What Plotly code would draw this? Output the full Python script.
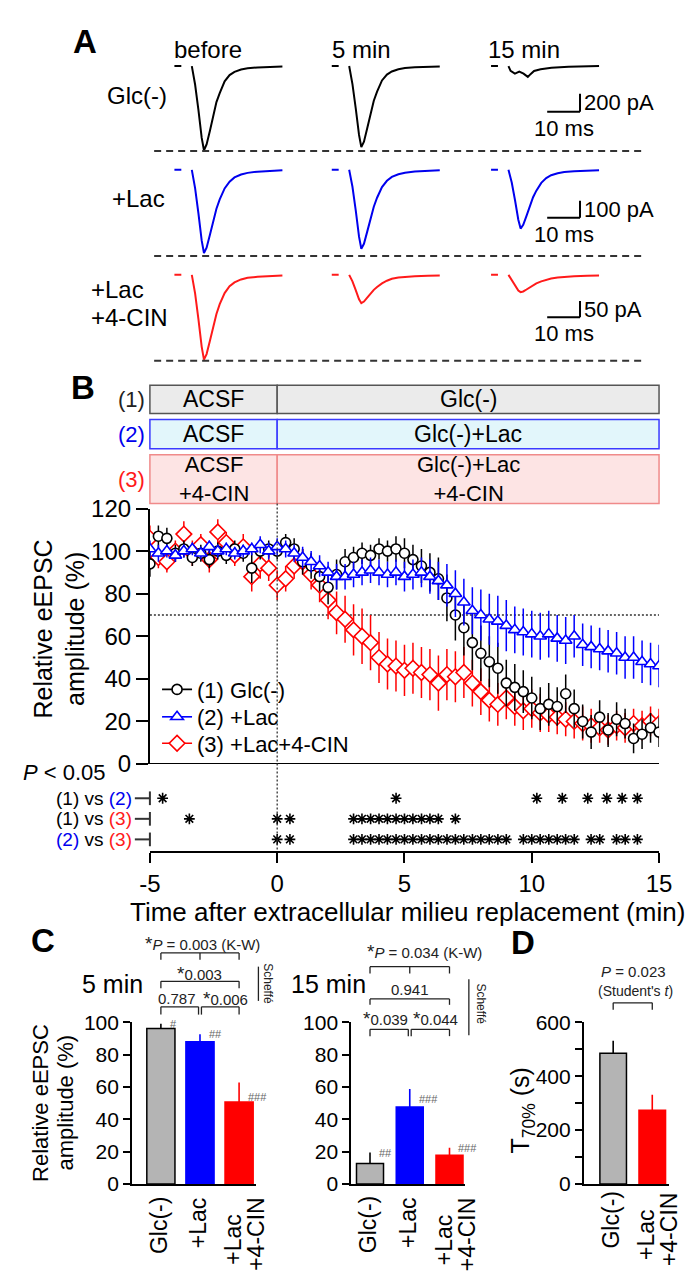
import plotly.graph_objects as go

W, H = 693, 1280
FONT = "Liberation Sans, Arial, Helvetica, sans-serif"

# ============================ DATA ============================
# ---- Panel A: representative eEPSC traces (ms after stimulus, pA) ----
TRACE_T_MS = [0, 1, 2, 3, 3.7, 4.5, 5.5, 6.5, 7.5, 8.5, 10, 11.5, 13, 15, 17, 20, 24, 27.6]
GLC_BEFORE_PA = [0, -205, -485, -795, -935, -870, -720, -540, -400, -300, -170, -100, -65, -38, -25, -15, -8, -5]
GLC_5MIN_PA = [0, -200, -470, -765, -900, -840, -690, -520, -385, -285, -160, -95, -60, -35, -22, -14, -8, -4]
GLC_15MIN_T_MS = [0, 0.65, 1.96, 3.3, 4.6, 5.9, 6.8, 7.8, 9.8, 13.1, 18.3, 27.6]
GLC_15MIN_PA = [0, -54, -84, -62, -84, -120, -87, -54, -36, -18, -8, 0]
LAC_BEFORE_PA = [0, -108, -255, -417, -491, -460, -385, -300, -230, -175, -110, -70, -45, -28, -18, -11, -6, -3]
LAC_5MIN_PA = [0, -100, -240, -395, -466, -437, -365, -285, -218, -165, -102, -65, -42, -26, -17, -10, -6, -3]
LAC_15MIN_PA = [0, -75, -180, -295, -347, -325, -272, -212, -162, -123, -77, -49, -32, -20, -13, -8, -5, -2]
CIN_BEFORE_PA = [0, -57, -135, -220, -260, -243, -203, -158, -120, -90, -56, -35, -23, -14, -9, -6, -3, -2]
CIN_5MIN_PA = [0, -20, -47, -75, -87, -82, -70, -57, -46, -37, -26, -18, -12, -8, -6, -4, -3, -2]
CIN_15MIN_PA = [0, -15, -33, -48, -53, -51, -45, -38, -31, -26, -20, -15, -11, -8, -6, -4, -3, -2]
PRE_T_MS = [-5.3, -3.2]
PRE_PA = [0, 0]
A_COL_LABELS = ["before", "5 min", "15 min"]
SCALE_PA = [200, 100, 50]
SCALE_MS = 10

# ---- Panel B: time course (20-s bins) ----
T_SEC = [-300, -280, -260, -240, -220, -200, -180, -160, -140, -120, -100, -80, -60, -40, -20,
         0, 20, 40, 60, 80, 100, 120, 140, 160, 180, 200, 220, 240, 260, 280,
         300, 320, 340, 360, 380, 400, 420, 440, 460, 480, 500, 520, 540, 560, 580,
         600, 620, 640, 660, 680, 700, 720, 740, 760, 780, 800, 820, 840, 860, 880, 900]
GLC_MEAN = [94, 107, 106, 99, 101, 97, 99, 96, 100, 98, 101, 99, 92, 100, 101,
            100, 104, 101, 95, 93, 88, 83, 89, 95, 97, 99, 98, 101, 100, 101,
            99, 96, 93, 90, 87, 78, 70, 64, 57, 52, 48, 45, 38, 36, 34,
            31, 26, 28, 27, 33, 26, 20, 15, 22, 16, 21, 19, 12, 14, 17, 15]
GLC_SEM = [6, 5, 5, 4, 4, 4, 4, 4, 4, 4, 4, 4, 7, 4, 4,
           4, 4, 5, 6, 6, 7, 8, 7, 6, 5, 5, 5, 5, 5, 6,
           7, 7, 8, 9, 10, 11, 12, 13, 13, 13, 12, 12, 11, 11, 10,
           10, 10, 10, 9, 9, 9, 8, 8, 8, 8, 8, 7, 7, 7, 7, 7]
LAC_MEAN = [101, 99, 100, 98, 100, 101, 99, 102, 100, 101, 99, 100, 101, 103, 100,
            102, 101, 99, 97, 95, 93, 90, 88, 88, 89, 90, 91, 90, 89, 90,
            88, 89, 90, 88, 86, 84, 80, 76, 72, 70, 68, 67, 65, 63, 62,
            61, 60, 61, 59, 58, 60, 56, 55, 54, 53, 52, 50, 50, 48, 47, 46]
LAC_SEM = [4, 4, 3, 3, 3, 3, 3, 3, 3, 3, 3, 3, 3, 4, 4,
           4, 4, 4, 5, 5, 5, 5, 6, 6, 6, 6, 6, 6, 6, 6,
           7, 7, 7, 8, 9, 10, 11, 11, 11, 12, 12, 12, 12, 11, 11,
           11, 11, 11, 11, 11, 10, 10, 10, 10, 10, 10, 10, 10, 10, 10, 10]
CIN_MEAN = [106, 97, 95, 100, 108, 99, 103, 96, 109, 104, 98, 102, 88, 94, 92,
            84, 87, 93, 95, 89, 84, 77, 71, 68, 63, 60, 57, 50, 47, 46,
            44, 45, 43, 42, 38, 42, 41, 43, 38, 34, 30, 28, 31, 27, 25,
            26, 24, 23, 22, 21, 20, 19, 18, 17, 16, 18, 17, 19, 18, 20, 19]
CIN_SEM = [6, 5, 5, 5, 6, 6, 5, 6, 6, 5, 5, 6, 7, 7, 6,
           7, 6, 6, 6, 7, 8, 9, 10, 11, 12, 13, 13, 12, 12, 12,
           12, 12, 12, 12, 13, 12, 12, 12, 11, 11, 10, 10, 10, 9, 9,
           9, 9, 8, 8, 8, 8, 8, 8, 7, 7, 7, 7, 7, 7, 7, 7]
SIG_1V2 = [-4.5, 4.67, 10.2, 11.2, 12.2, 12.95, 13.55, 14.15]
SIG_1V3 = [-3.45, 0, 0.5, 3.0, 3.33, 3.67, 4.0, 4.33, 4.67, 5.0, 5.33, 5.67, 6.0, 6.33, 7.0]
SIG_2V3 = [0, 0.5, 3.0, 3.33, 3.67, 4.0, 4.33, 4.67, 5.0, 5.33, 5.67, 6.0, 6.33, 6.67, 7.0, 7.33,
           7.67, 8.0, 8.33, 8.67, 9.0, 9.67, 10.0, 10.33, 10.67, 11.0, 11.33, 11.67, 12.33, 12.67,
           13.33, 13.67, 14.15]
BOX_PRE = ["ACSF", "ACSF", "ACSF<br>+4-CIN"]
BOX_POST = ["Glc(-)", "Glc(-)+Lac", "Glc(-)+Lac<br>+4-CIN"]
B_X_TICKS = [-5, 0, 5, 10, 15]
B_X_TICKTEXT = ["-5", "0", "5", "10", "15"]
B_Y_TICKS = [0, 20, 40, 60, 80, 100, 120]

# ---- Panels C and D: bar summaries ----
C_CATS = [["Glc(-)"], ["+Lac"], ["+Lac", "+4-CIN"]]
C5_MEAN = [96.2, 88.1, 50.7]
C5_SEM = [3.0, 4.6, 12.1]
C5_HASH = ["#", "##", "###"]
C15_MEAN = [12.7, 47.7, 17.8]
C15_SEM = [6.7, 11.1, 4.6]
C15_HASH = ["##", "###", "###"]
D_CATS = [["Glc(-)"], ["+Lac", "+4-CIN"]]
D_MEAN = [486, 274]
D_SEM = [46, 57]

# ============================ HELPERS ============================
def fx(p):
    return p / W


def fy(p):
    return 1 - p / H


ann = []
shp = []


def note(x, y, text, size=22, color="black", xanchor="center", yanchor="middle",
         xref="paper", yref="paper", **kw):
    a = dict(x=fx(x) if xref == "paper" else x, y=fy(y) if yref == "paper" else y,
             text=text, showarrow=False, xref=xref, yref=yref,
             xanchor=xanchor, yanchor=yanchor,
             font=dict(size=size, color=color, family=FONT))
    a.update(kw)
    ann.append(a)


def pline(x0, y0, x1, y1, color="black", width=2, dash=None):
    d = dict(type="line", xref="paper", yref="paper", x0=fx(x0), y0=fy(y0), x1=fx(x1), y1=fy(y1),
             line=dict(color=color, width=width))
    if dash:
        d["line"]["dash"] = dash
    shp.append(d)


def bracket(xa, xb, y, drop, mid=None, width=1.3, color="#222"):
    pline(xa, y, xb, y, color, width)
    pline(xa, y, xa, y + drop, color, width)
    pline(xb, y, xb, y + drop, color, width)
    if mid is not None:
        pline(mid, y, mid, y + drop, color, width)


def axn(k, xy):
    return f"{xy}axis" if k == 1 else f"{xy}axis{k}"


def axr(k, xy):
    return xy if k == 1 else f"{xy}{k}"


fig = go.Figure()
layout = dict(width=W, height=H, margin=dict(l=0, r=0, t=0, b=0),
              paper_bgcolor="white", plot_bgcolor="rgba(0,0,0,0)",
              font=dict(family=FONT, color="black"), showlegend=True)

# ============================ PANEL A ============================
A_TRACES = [
    [(TRACE_T_MS, GLC_BEFORE_PA), (TRACE_T_MS, GLC_5MIN_PA), (GLC_15MIN_T_MS, GLC_15MIN_PA)],
    [(TRACE_T_MS, LAC_BEFORE_PA), (TRACE_T_MS, LAC_5MIN_PA), (TRACE_T_MS, LAC_15MIN_PA)],
    [(TRACE_T_MS, CIN_BEFORE_PA), (TRACE_T_MS, CIN_5MIN_PA), (TRACE_T_MS, CIN_15MIN_PA)],
]
A_COLORS = ["#000000", "#0000ee", "#ff1a1a"]
A_COL_LEFT = [156, 319, 484]
A_COL_W = 125
A_PX_PER_MS = 3.4
A_T0 = -6.77
A_ROWS = [dict(base=45, top=36, bot=142, k=0.092),
          dict(base=151, top=143, bot=246, k=0.173),
          dict(base=258.3, top=250, bot=352, k=0.333)]
SB_T0 = 11.8
SB_BOTTOM = [-508, -283, -130]

for r in range(3):
    R = A_ROWS[r]
    for c in range(3):
        k = r * 3 + c + 1
        layout[axn(k, "x")] = dict(domain=[fx(A_COL_LEFT[c]), fx(A_COL_LEFT[c] + A_COL_W)],
                                   range=[A_T0, A_T0 + A_COL_W / A_PX_PER_MS],
                                   visible=False, anchor=axr(k, "y"))
        layout[axn(k, "y")] = dict(domain=[fy(R["bot"]), fy(R["top"])],
                                   range=[-(R["bot"] - R["base"]) / R["k"], (R["base"] - R["top"]) / R["k"]],
                                   visible=False, anchor=axr(k, "x"))
        t, i = A_TRACES[r][c]
        fig.add_trace(go.Scatter(x=t, y=i, mode="lines", line=dict(color=A_COLORS[r], width=2),
                                 xaxis=axr(k, "x"), yaxis=axr(k, "y"), showlegend=False, hoverinfo="skip"))
        fig.add_trace(go.Scatter(x=PRE_T_MS, y=PRE_PA, mode="lines", line=dict(color=A_COLORS[r], width=2),
                                 xaxis=axr(k, "x"), yaxis=axr(k, "y"), showlegend=False, hoverinfo="skip"))
    # scale bar in column 3
    k = r * 3 + 3
    xb0, xb1 = SB_T0, SB_T0 + SCALE_MS
    yb0, yb1 = SB_BOTTOM[r], SB_BOTTOM[r] + SCALE_PA[r]
    for (a0, b0, a1, b1) in [(xb0, yb0, xb1, yb0), (xb1, yb0, xb1, yb1)]:
        shp.append(dict(type="line", xref=axr(k, "x"), yref=axr(k, "y"), x0=a0, y0=b0, x1=a1, y1=b1,
                        line=dict(color="black", width=2)))
    note(xb1, (yb0 + yb1) / 2, f"{SCALE_PA[r]} pA", size=22, xanchor="left",
         xref=axr(k, "x"), yref=axr(k, "y"), xshift=2)
    note((xb0 + xb1) / 2, yb0, f"{SCALE_MS} ms", size=22, yanchor="top",
         xref=axr(k, "x"), yref=axr(k, "y"), yshift=-2)

for y in [131.7, 239, 346]:
    pline(140, y, 649, y, "#333", 2, "7px,5px")

for c, lab in enumerate(A_COL_LABELS):
    note([196, 355, 523][c], 28, lab, size=24)
note(122, 75, "Glc(-)", size=24)
note(124, 180, "+Lac", size=24)
note(73, 273, "+Lac", size=24, xanchor="left")
note(73, 302, "+4-CIN", size=24, xanchor="left")
note(68, 20, "<b>A</b>", size=33)

# ============================ PANEL B ============================
B_X0, B_X1 = 135.6, 663
B_YB, B_YT = 758, 497
SIG_TOP, SIG_BOT = 760, 847
SIG_ROWS_PX = [793, 814, 835]


def sig_v(p):
    return 1 + (p - SIG_ROWS_PX[0]) / (SIG_ROWS_PX[1] - SIG_ROWS_PX[0])


def bx(t):
    return B_X0 + (t + 5) / 20 * (B_X1 - B_X0)


layout["xaxis10"] = dict(domain=[fx(B_X0), fx(B_X1)], range=[-5, 15], anchor="y11",
                         showline=True, linecolor="black", linewidth=2, ticks="outside",
                         ticklen=10, tickwidth=2, tickcolor="black", tickvals=B_X_TICKS,
                         ticktext=B_X_TICKTEXT, tickfont=dict(size=24, family=FONT),
                         showgrid=False, zeroline=False)
layout["yaxis10"] = dict(domain=[fy(B_YB), fy(B_YT)], range=[0, 120], anchor="x10",
                         showline=True, linecolor="black", linewidth=2, ticks="outside",
                         ticklen=12, tickwidth=2, tickcolor="black", tickvals=B_Y_TICKS,
                         tickfont=dict(size=24, family=FONT), showgrid=False, zeroline=False)
layout["yaxis11"] = dict(domain=[fy(SIG_BOT), fy(SIG_TOP)], range=[sig_v(SIG_BOT), sig_v(SIG_TOP)],
                         anchor="x10", visible=False)

T_MIN = [s / 60 for s in T_SEC]
SERIES = [
    ("(3) +Lac+4-CIN", CIN_MEAN, CIN_SEM, "#ff0000", "diamond", 12),
    ("(1) Glc(-)", GLC_MEAN, GLC_SEM, "#000000", "circle", 10),
    ("(2) +Lac", LAC_MEAN, LAC_SEM, "#0000ff", "triangle-up", 11),
]
for name, m, s, col, sym, size in SERIES:
    fig.add_trace(go.Scatter(
        x=T_MIN, y=m, mode="markers", xaxis="x10", yaxis="y10", showlegend=False,
        marker=dict(symbol=sym, size=size, color="white", line=dict(color=col, width=1.6)),
        error_y=dict(type="data", array=s, color=col, thickness=1.5, width=0), hoverinfo="skip"))

# one legend per entry so that the rows sit at the reference spacing
LEG_Y = [682, 710, 737]
for j, (name, m, s, col, sym, size) in enumerate([SERIES[1], SERIES[2], SERIES[0]]):
    lname = "legend" if j == 0 else f"legend{j + 1}"
    fig.add_trace(go.Scatter(
        x=[None], y=[None], mode="lines+markers", name=name, xaxis="x10", yaxis="y10",
        legend=lname, line=dict(color=col, width=1.6),
        marker=dict(symbol=sym, size=size, color="white", line=dict(color=col, width=1.6))))
    layout[lname] = dict(x=fx(143), y=fy(LEG_Y[j]), xanchor="left", yanchor="middle",
                         font=dict(size=22, family=FONT), bgcolor="rgba(0,0,0,0)",
                         itemwidth=30, borderwidth=0)

for row, times in enumerate([SIG_1V2, SIG_1V3, SIG_2V3]):
    fig.add_trace(go.Scatter(
        x=times, y=[row + 1] * len(times), mode="markers", xaxis="x10", yaxis="y11",
        showlegend=False, hoverinfo="skip",
        marker=dict(symbol="asterisk-open", size=9, color="black", line=dict(color="black", width=1.6))))

# zero line, 70% line, time-zero line
shp.append(dict(type="line", xref="x10", yref="y10", x0=-5, y0=0, x1=15, y1=0,
                line=dict(color="black", width=2)))
shp.append(dict(type="line", xref="x10", yref="y10", x0=-5, y0=70, x1=15, y1=70,
                line=dict(color="#333", width=1.3, dash="2px,2px"), layer="below"))
pline(bx(0), 492, bx(0), SIG_BOT, "#333", 1.3, "2px,2px")

# protocol boxes
BOX_Y = [(371, 400), (406, 436), (442, 492)]
BOX_FILL = ["#ebebeb", "#e2f6fb", "#fde4e4"]
BOX_LINE = ["#555555", "#3a3aff", "#f08a8a"]
BOX_LAB = ["(1)", "(2)", "(3)"]
BOX_LAB_COL = ["#222222", "#0000ee", "#ff1a1a"]
for i, (y0, y1) in enumerate(BOX_Y):
    for a, b in [(-5, 0), (0, 15)]:
        shp.append(dict(type="rect", xref="paper", yref="paper", x0=fx(bx(a)), x1=fx(bx(b)),
                        y0=fy(y1), y1=fy(y0), fillcolor=BOX_FILL[i],
                        line=dict(color=BOX_LINE[i], width=1.5), layer="below"))
    ym = (y0 + y1) / 2
    note(117, ym, BOX_LAB[i], size=22, color=BOX_LAB_COL[i])
    fs = 23 if "<br>" not in BOX_PRE[i] else 22
    note((bx(-5) + bx(0)) / 2, ym, BOX_PRE[i], size=fs, borderpad=0)
    note((bx(0) + bx(15)) / 2, ym, BOX_POST[i], size=fs, borderpad=0)

note(66, 373, "<b>B</b>", size=33)
note(24.5, 620, "Relative eEPSC", size=25, textangle=-90)
note(58, 620, "amplitude (%)", size=25, textangle=-90)
note(402, 909, "Time after extracellular milieu replacement (min)", size=26)
note(2, 767, "<i>P</i> &lt; 0.05", size=22, xanchor="left")
SIG_LABELS = ["(1) vs <span style='color:#0000ee'>(2)</span>",
              "(1) vs <span style='color:#ff1a1a'>(3)</span>",
              "<span style='color:#0000ee'>(2)</span> vs <span style='color:#ff1a1a'>(3)</span>"]
for y, lab in zip(SIG_ROWS_PX, SIG_LABELS):
    note(118, y, lab, size=19, xanchor="right", borderpad=0)
    pline(120, y, B_X0, y, "#333", 2)
    pline(B_X0, y - 7, B_X0, y + 7, "#333", 2)

# ============================ PANELS C, D ============================
BAR_COLORS = ["#b4b4b4", "#0000ff", "#ff0000"]
BAR_LINES = ["#000000", "#0000ff", "#ff0000"]
ERR_COLORS = ["#000000", "#0000ff", "#ff0000"]
Y_TOP, Y_BOT = 1022, 1187

PANELS = [
    dict(k=12, left=117, right=245, r0=-0.74, r1=2.42, ymax=100, tickv=[0, 20, 40, 60, 80, 100],
         means=C5_MEAN, sems=C5_SEM, cats=C_CATS, colors=[0, 1, 2], bw=0.72,
         hashes=C5_HASH, hash_ys=[0, 0, -14]),
    dict(k=13, left=344, right=462, r0=-0.476, r1=2.39, ymax=100, tickv=[0, 20, 40, 60, 80, 100],
         means=C15_MEAN, sems=C15_SEM, cats=C_CATS, colors=[0, 1, 2], bw=0.68,
         hashes=C15_HASH, hash_ys=[0, -10, 0]),
    dict(k=14, left=585, right=673, r0=-0.753, r1=1.42, ymax=600, tickv=[0, 200, 400, 600],
         means=D_MEAN, sems=D_SEM, cats=D_CATS, colors=[0, 2], bw=0.68, hashes=None, hash_ys=None),
]


def cxp(P, i):
    return P["left"] + (i - P["r0"]) / (P["r1"] - P["r0"]) * (P["right"] - P["left"])


for P in PANELS:
    k = P["k"]
    n = len(P["means"])
    layout[axn(k, "x")] = dict(domain=[fx(P["left"]), fx(P["right"])], range=[P["r0"], P["r1"]],
                               anchor=axr(k, "y"), showline=True, linecolor="black", linewidth=1.6,
                               ticks="", showticklabels=False, showgrid=False, zeroline=False)
    ya = dict(domain=[fy(Y_BOT), fy(Y_TOP)], range=[0, P["ymax"]], anchor=axr(k, "x"),
              showline=True, linecolor="black", linewidth=1.6, ticks="outside", ticklen=7,
              tickwidth=1.6, tickcolor="black", tickvals=P["tickv"],
              tickfont=dict(size=21, family=FONT), showgrid=False, zeroline=False)
    if k == 14:
        ya["minor"] = dict(tickvals=[100, 300, 500], ticks="outside", ticklen=7, tickwidth=1.6,
                           tickcolor="black")
    layout[axn(k, "y")] = ya
    for i in range(n):
        ci = P["colors"][i]
        fig.add_trace(go.Bar(
            x=[i], y=[P["means"][i]], width=P["bw"], xaxis=axr(k, "x"), yaxis=axr(k, "y"),
            marker=dict(color=BAR_COLORS[ci], line=dict(color=BAR_LINES[ci], width=1.5)),
            error_y=dict(type="data", array=[P["sems"][i]], arrayminus=[0], symmetric=False,
                         color=ERR_COLORS[ci], thickness=1.6, width=0),
            showlegend=False, hoverinfo="skip"))
        if P["hashes"]:
            note(i, P["means"][i] + P["sems"][i], P["hashes"][i], size=11, color="#666",
                 xanchor="left", xref=axr(k, "x"), yref=axr(k, "y"), xshift=7,
                 yshift=P["hash_ys"][i])
        lines = P["cats"][i]
        top_px = Y_BOT + (6 if k == 14 else 11)
        if len(lines) == 1:
            note(i, top_px, lines[0], size=23, yanchor="top", textangle=-90,
                 xref=axr(k, "x"), xshift=-2)
        else:
            note(i, top_px, lines[1], size=23, yanchor="top", textangle=-90,
                 xref=axr(k, "x"), xshift=17)
            note(i, top_px + 74, lines[0], size=23, yanchor="bottom", textangle=-90,
                 xref=axr(k, "x"), xshift=-6)

STAR = "<span style='font-size:19px'>*</span>"
P5, P15, PD = PANELS
# C 5 min
a0, a1, a2 = cxp(P5, 0), cxp(P5, 1), cxp(P5, 2)
note((a0 + a2) / 2 + 3, 941, STAR + "<i>P</i> = 0.003 (K-W)", size=15, color="#222")
bracket(a0, a2, 951, 7, a1)
note((a0 + a2) / 2, 972, STAR + "0.003", size=15, color="#222")
bracket(a0, a2, 980, 7)
note((a0 + a1) / 2 - 4, 998, "0.787", size=15, color="#222")
note((a1 + a2) / 2 + 6, 998, STAR + "0.006", size=15, color="#222")
bracket(a0, a1 - 1.5, 1006, 8)
bracket(a1 + 1.5, a2, 1006, 8)
pline(248, 965, 248, 1000, "#222", 1.3)
note(258, 982, "Scheffé", size=12, color="#222", textangle=90)
note(97, 983, "5 min", size=25)
# C 15 min
b0, b1, b2 = cxp(P15, 0), cxp(P15, 1), cxp(P15, 2)
note((b0 + b2) / 2 + 15, 950, STAR + "<i>P</i> = 0.034 (K-W)", size=15, color="#222")
bracket(b0, b2, 965, 7, b1)
note((b0 + b2) / 2, 988, "0.941", size=15, color="#222")
bracket(b0, b2, 998, 6)
note((b0 + b1) / 2 - 5, 1018, STAR + "0.039", size=15, color="#222")
note((b1 + b2) / 2 + 6, 1018, STAR + "0.044", size=15, color="#222")
bracket(b0, b1 - 1.5, 1029, 7)
bracket(b1 + 1.5, b2, 1029, 7)
pline(466, 978, 466, 1035, "#222", 1.3)
note(479, 1003, "Scheffé", size=12, color="#222", textangle=90)
note(321, 983, "15 min", size=25)
note(23, 1104, "Relative eEPSC", size=22, textangle=-90)
note(48.5, 1104, "amplitude (%)", size=22, textangle=-90)
note(25, 938, "<b>C</b>", size=33)
# D
d0, d1 = cxp(PD, 0), cxp(PD, 1)
note(637, 970, "<i>P</i> = 0.023", size=15, color="#222")
note(639, 990, "(Student's <i>t</i>)", size=14, color="#222")
bracket(d0, d1, 1002, 7)
note(521, 1112, "T<sub>70%</sub> (s)", size=25, textangle=-90)
note(522, 940, "<b>D</b>", size=33)

layout["annotations"] = ann
layout["shapes"] = shp
fig.update_layout(**layout)
fig.write_html("out.html")
